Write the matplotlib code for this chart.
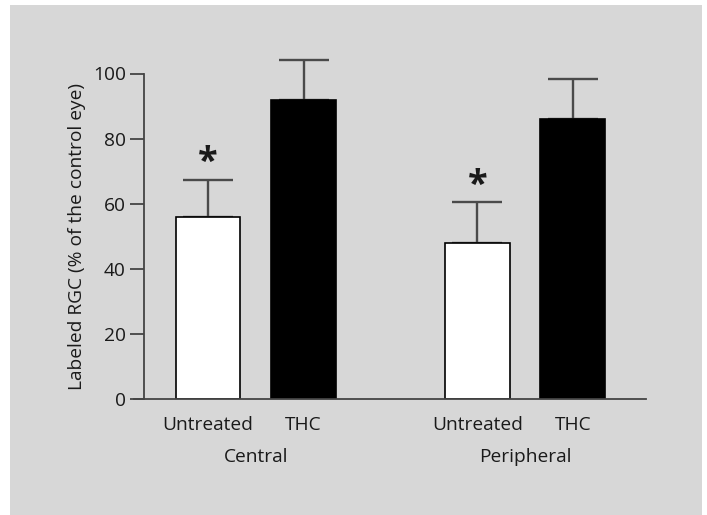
import numpy as np
import matplotlib.pyplot as plt
from matplotlib.patches import Rectangle

plt.rcParams['font.family'] = ['Open Sans', 'DejaVu Sans']

groups = ["Central", "Peripheral"]
bar_labels = ["Untreated", "THC", "Untreated", "THC"]
values = [56, 92, 48, 86]
errors = [11.3, 12.3, 12.4, 12.3]
colors = ["white", "black", "white", "black"]
signif = [True, False, True, False]

pos = np.array([0, 1, 2.82, 3.82])
txt = "#1a1a1a"
fs = 13.8

fig = plt.figure(figsize=(7.07, 5.15), dpi=100)
fig.patch.set_facecolor("white")
fig.patches.append(Rectangle((10 / 707, 0), 692 / 707, 510 / 515,
                             transform=fig.transFigure, facecolor="#d7d7d7",
                             edgecolor="none", zorder=-10))

ax = fig.add_axes([144 / 707, 116 / 515, 502 / 707, 325.5 / 515])
ax.set_facecolor("none")

ax.bar(pos, values, width=0.68, color=colors, edgecolor="black", linewidth=1.2, zorder=2)
ax.errorbar(pos, values, yerr=[np.zeros(4), errors], fmt="none", ecolor="#4a4a4a",
            elinewidth=1.7, capsize=18, capthick=1.7, clip_on=False, zorder=1)

for x, v, e, s in zip(pos, values, errors, signif):
    if s:
        ax.text(x, v + e + 5.2, "*", ha="center", va="center", fontsize=26,
                fontweight="bold", color=txt)

ax.set_xlim(-0.67, 4.586)
ax.set_ylim(0, 100)
ax.set_yticks(range(0, 101, 20))
ax.set_xticks(pos)
ax.set_xticklabels(bar_labels)
ax.tick_params(axis="x", length=0, pad=12, labelsize=fs, labelcolor=txt)
ax.tick_params(axis="y", length=10, width=1.3, color="#444444", pad=3,
               labelsize=fs, labelcolor=txt)
ax.set_ylabel("Labeled RGC (% of the control eye)", fontsize=fs, color=txt, labelpad=5)

for sp in ["top", "right"]:
    ax.spines[sp].set_visible(False)
for sp in ["left", "bottom"]:
    ax.spines[sp].set_linewidth(1.3)
    ax.spines[sp].set_color("#444444")
ax.spines["bottom"].set_bounds(-0.775, 4.586)

for i, g in enumerate(groups):
    ax.text(pos[2 * i:2 * i + 2].mean(), -17.8, g, ha="center", va="center",
            fontsize=fs, color=txt)

fig.savefig("out.png", dpi=100)
